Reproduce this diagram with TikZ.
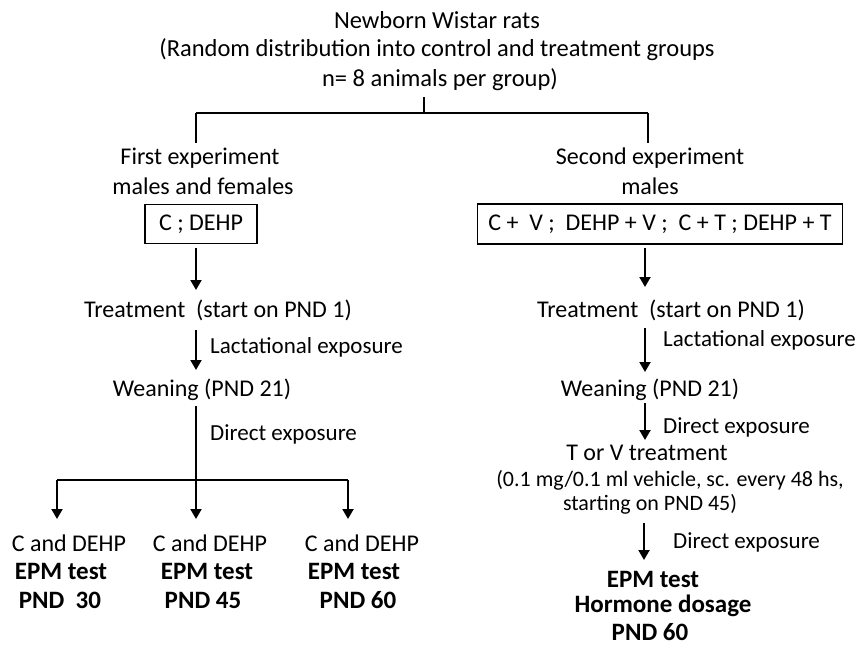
\documentclass[tikz,border=0pt]{standalone}
\usepackage{fontspec}
\setmainfont{Carlito}
\usetikzlibrary{arrows.meta}
\begin{document}
\begin{tikzpicture}[x=1pt,y=-1pt,
  txt/.style={inner sep=0pt,font=\fontsize{24}{28}\selectfont,align=center},
  ttl/.style={inner sep=0pt,font=\fontsize{24.5}{28}\selectfont,align=center},
  lbl/.style={inner sep=0pt,font=\fontsize{23}{26}\selectfont,anchor=west},
  btxt/.style={inner sep=0pt,font=\fontsize{25}{29}\selectfont\bfseries,align=center},
  boxn/.style={draw,line width=1.6pt,inner sep=0pt,font=\fontsize{24}{28}\selectfont},
  ln/.style={line width=2pt},
  arr/.style={line width=2pt,-{Triangle[length=10pt,width=11pt]}}]
\useasboundingbox (0,0) rectangle (855,648);
% title
\node[ttl] (t1) at (437,20) {Newborn Wistar rats};
\node[ttl] (t2) at (437,50) {(Random distribution into control and treatment groups};
\node[ttl] (t3) at (440,80) {n= 8 animals per group)};
\coordinate (tb) at (424,97);
\coordinate (tj) at (424,113);
\coordinate (lj) at (196,113);
\coordinate (rj) at (648,113);
\coordinate (ld) at (196,143);
\coordinate (rd) at (648,143);
\draw[ln] (tb) -- (tj);
\draw[ln] (lj) -- (rj);
\draw[ln] (lj) -- (ld);
\draw[ln] (rj) -- (rd);
% left column
\node[txt] (f1) at (200,158) {First experiment};
\node[txt] (f2) at (203,186) {males and females};
\node[boxn,minimum width=112pt,minimum height=39pt] (bl) at (201,224) {C ; DEHP};
\node[txt] (trl) at (218,310) {Treatment\ \ (start on PND 1)};
\node[txt] (wl) at (202,390) {Weaning (PND 21)};
\node[lbl] (lacl) at (210,347) {Lactational exposure};
\node[lbl] (dl) at (210,434) {Direct exposure};
\coordinate (la1) at (196,248);
\coordinate (la2) at (196,290);
\coordinate (lb1) at (196,330);
\coordinate (lb2) at (196,370);
\coordinate (lc1) at (196,406);
\coordinate (lc2) at (196,480);
\coordinate (lh1) at (57,480);
\coordinate (lh3) at (348,480);
\coordinate (le1) at (57,519);
\coordinate (le2) at (196,519);
\coordinate (le3) at (348,519);
\draw[arr] (la1) -- (la2);
\draw[arr] (lb1) -- (lb2);
\draw[ln] (lc1) -- (lc2);
\draw[ln] (lh1) -- (lh3);
\draw[arr] (lh1) -- (le1);
\draw[arr] (lc2) -- (le2);
\draw[arr] (lh3) -- (le3);
\node[txt] (c1a) at (69,543) {C and DEHP};
\node[btxt] (c1b) at (61,571) {EPM test};
\node[btxt] (c1c) at (60,600) {PND\ \ 30};
\node[txt] (c2a) at (210,543) {C and DEHP};
\node[btxt] (c2b) at (207,571) {EPM test};
\node[btxt] (c2c) at (203,600) {PND 45};
\node[txt] (c3a) at (362,543) {C and DEHP};
\node[btxt] (c3b) at (354,571) {EPM test};
\node[btxt] (c3c) at (358,600) {PND 60};
% right column
\node[txt] (s1) at (650,158) {Second experiment};
\node[txt] (s2) at (650,186) {males};
\node[boxn,minimum width=365pt,minimum height=40pt] (br) at (660,224) {C +\ \ V ;\ \ DEHP + V ;\ \ C + T ; DEHP + T};
\node[txt] (trr) at (671,310) {Treatment\ \ (start on PND 1)};
\node[lbl] (lacr) at (663,340) {Lactational exposure};
\node[txt] (wr) at (650,390) {Weaning (PND 21)};
\node[lbl] (dr) at (663,427) {Direct exposure};
\node[txt] (tv) at (647,453) {T or V treatment};
\node[txt,font=\fontsize{22}{26}\selectfont] (veh) at (670,480) {(0.1 mg/0.1 ml vehicle, sc. every 48 hs,};
\node[txt,font=\fontsize{22}{26}\selectfont] (sta) at (650,504) {starting on PND 45)};
\node[lbl] (dr2) at (673,542) {Direct exposure};
\node[btxt] (r1) at (653,579) {EPM test};
\node[btxt] (r2) at (663,606) {Hormone dosage};
\node[btxt] (r3) at (650,632) {PND 60};
\coordinate (ra1) at (645,248);
\coordinate (ra2) at (645,287);
\coordinate (rb1) at (645,328);
\coordinate (rb2) at (645,372);
\coordinate (rc1) at (645,403);
\coordinate (rc2) at (645,440);
\coordinate (rd1) at (644,523);
\coordinate (rd2) at (644,560);
\draw[arr] (ra1) -- (ra2);
\draw[arr] (rb1) -- (rb2);
\draw[arr] (rc1) -- (rc2);
\draw[arr] (rd1) -- (rd2);
\end{tikzpicture}
\end{document}
